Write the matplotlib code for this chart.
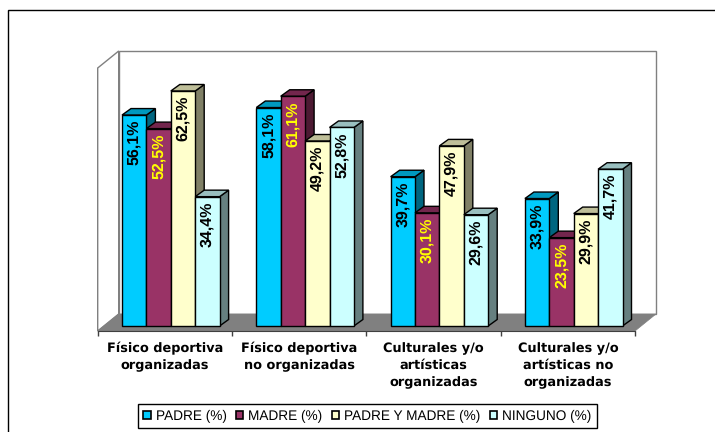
#!/usr/bin/env python3
import matplotlib
matplotlib.use("Agg")
import matplotlib.pyplot as plt
import numpy as np
from matplotlib.colors import to_rgb
from matplotlib.patches import Patch, Polygon, Rectangle

plt.rcParams["font.family"] = ["Liberation Sans", "DejaVu Sans"]
plt.rcParams["text.hinting"] = "no_hinting"

categories = ["Físico deportiva\norganizadas", "Físico deportiva\nno organizadas",
              "Culturales y/o\nartísticas\norganizadas", "Culturales y/o\nartísticas no\norganizadas"]
series_names = ["PADRE (%)", "MADRE (%)", "PADRE Y MADRE (%)", "NINGUNO (%)"]
padre = [56.1, 58.1, 39.7, 33.9]
madre = [52.5, 61.1, 30.1, 23.5]
ambos = [62.5, 49.2, 47.9, 29.9]
ninguno = [34.4, 52.8, 29.6, 41.7]
colors = ["#00CCFF", "#993366", "#FFFFCC", "#CCFFFF"]
label_colors = ["black", "#FFFF00", "black", "black"]

W, H = 715, 432
# pixel layout of the plot
X0, X1 = 97.7, 635.0
Y_BASE = 326.0
Y_AXIS = 331.0
PX_PER_UNIT = 3.76
Y_TOP = 68.0

fig = plt.figure(figsize=(W / 100, H / 100), dpi=100)
# outer frame, only left and top are inside the picture
fig.add_artist(Rectangle((8 / W, -0.01), 1.0, 1 - 10 / H + 0.01, transform=fig.transFigure,
                         fc="white", ec="black", lw=1, zorder=-1))

ymin = -(Y_AXIS - Y_BASE) / PX_PER_UNIT
ymax = (Y_BASE - Y_TOP) / PX_PER_UNIT
ax = fig.add_axes([X0 / W, 1 - Y_AXIS / H, (X1 - X0) / W, (Y_AXIS - Y_TOP) / H])
ax.set_xlim(0, 4)
ax.set_ylim(ymin, ymax)
ax.patch.set_visible(False)

ux = (X1 - X0) / 4
# depth of the walls and of the bars, in data units
wall_dx, wall_dy = 21 / ux, 17 / PX_PER_UNIT
bar_dx, bar_dy = 9 / ux, 6.5 / PX_PER_UNIT

# floor and walls
ax.add_patch(Polygon([(0, ymin), (wall_dx, ymin + wall_dy), (wall_dx, ymax + wall_dy), (0, ymax)],
                     fc="white", ec="#808080", lw=1, clip_on=False, zorder=1))
ax.add_patch(Rectangle((wall_dx, ymin + wall_dy), 4, ymax - ymin, fc="white", ec="#808080",
                       lw=1, clip_on=False, zorder=1))
ax.add_patch(Polygon([(0, ymin), (4, ymin), (4 + wall_dx, ymin + wall_dy), (wall_dx, ymin + wall_dy)],
                     fc="#808080", ec="#808080", lw=0.5, clip_on=False, zorder=2))

bar_w = 24.4 / ux
all_vals = np.array([padre, madre, ambos, ninguno])
z = 3
for g in range(len(categories)):
    left = (122.0 - X0) / ux + g * 134.3 / ux
    for s in range(4):
        v = all_vals[s, g]
        x = left + s * bar_w
        c = np.array(to_rgb(colors[s]))
        # side and top faces
        ax.add_patch(Polygon([(x + bar_w, 0), (x + bar_w + bar_dx, bar_dy), (x + bar_w + bar_dx, v + bar_dy), (x + bar_w, v)],
                             fc=c * 0.5, ec="black", lw=1, clip_on=False, zorder=z))
        ax.add_patch(Polygon([(x, v), (x + bar_dx, v + bar_dy), (x + bar_w + bar_dx, v + bar_dy), (x + bar_w, v)],
                             fc=c * 0.75, ec="black", lw=1, clip_on=False, zorder=z))
        ax.bar(x, v, width=bar_w, align="edge", color=colors[s], edgecolor="black", lw=1, zorder=z + 1)
        ax.annotate(f"{v:.1f}%".replace(".", ","), (x + bar_w / 2, v), xytext=(0, -3.5), textcoords="offset points",
                    rotation=90, ha="center", va="top", fontsize=11.5, fontweight="bold",
                    color=label_colors[s], zorder=50)
        z += 2

for side in ["top", "left", "right"]:
    ax.spines[side].set_visible(False)
ax.spines["bottom"].set_color("#404040")
ax.spines["bottom"].set_zorder(40)
ax.set_yticks([])
ax.set_xticks(np.arange(5))
ax.set_xticklabels([])
ax.tick_params(axis="x", length=3.6, width=1, color="#404040")
ax.set_xticks(np.arange(4) + 0.5, categories, minor=True, fontsize=9.3, fontweight="bold", linespacing=1.45,
              family="DejaVu Sans")
ax.tick_params(axis="x", which="minor", length=0, pad=8)

handles = [Patch(fc=colors[i], ec="black", lw=1.2) for i in range(4)]
leg = fig.legend(handles, series_names, ncol=4, loc="center", bbox_to_anchor=(367.4 / W, 1 - 416 / H),
                 fontsize=9.8, frameon=True, fancybox=False, edgecolor="black", framealpha=1,
                 handlelength=0.55, handleheight=0.55, handletextpad=0.35, columnspacing=0.7,
                 borderpad=0.4, borderaxespad=0)
leg.get_frame().set_linewidth(1)

fig.savefig("out.png", dpi=100)
